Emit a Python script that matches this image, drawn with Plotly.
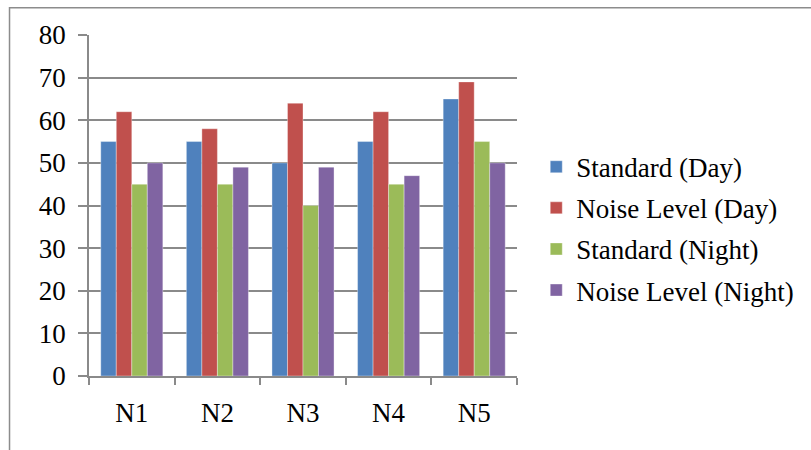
import plotly.graph_objects as go

sites = ["N1", "N2", "N3", "N4", "N5"]
standard_day = [55, 55, 50, 55, 65]
noise_day = [62, 58, 64, 62, 69]
standard_night = [45, 45, 40, 45, 55]
noise_night = [50, 49, 49, 47, 50]

series = [
    ("Standard (Day)", standard_day, "#4F81BD"),
    ("Noise Level (Day)", noise_day, "#C0504D"),
    ("Standard (Night)", standard_night, "#9BBB59"),
    ("Noise Level (Night)", noise_night, "#8064A2"),
]

font_family = "Liberation Serif, Times New Roman, serif"
grid_color = "#8a8a8a"

fig = go.Figure()
for i, (name, vals, color) in enumerate(series):
    fig.add_trace(go.Bar(
        x=sites, y=vals, name=name, legendgroup=f"g{i}",
        marker=dict(color=color, line=dict(color="rgba(255,255,255,0.35)", width=1)),
    ))

fig.update_layout(
    width=811, height=450,
    margin=dict(l=89, r=294, t=35, b=74, autoexpand=False),
    paper_bgcolor="white", plot_bgcolor="white",
    barmode="group", bargap=0.275, bargroupgap=0,
    font=dict(family=font_family, size=27, color="black"),
    showlegend=True,
    legend=dict(
        x=1.045, y=0.432, xanchor="left", yanchor="middle",
        traceorder="grouped", tracegroupgap=3,
        font=dict(family=font_family, size=27, color="black"),
        itemwidth=30,
    ),
    xaxis=dict(
        showline=True, linecolor=grid_color, linewidth=1.5,
        ticks="outside", tickson="boundaries", ticklen=7, tickcolor=grid_color,
        tickwidth=1.5, showgrid=False, ticklabelstandoff=12,
        tickfont=dict(family=font_family, size=27),
    ),
    yaxis=dict(
        range=[0, 80], dtick=10, showline=True, linecolor=grid_color, linewidth=1.5,
        ticks="outside", ticklen=9, tickcolor=grid_color, tickwidth=1.5,
        showgrid=True, gridcolor=grid_color, gridwidth=1.5, zeroline=False,
        ticklabelstandoff=7,
        tickfont=dict(family=font_family, size=27),
    ),
    shapes=[dict(
        type="rect", xref="paper", yref="paper",
        x0=-0.1857, x1=1.9, y0=1.0797, y1=-0.5,
        line=dict(color="#8c8c8c", width=1.5), layer="below",
    )],
)

fig.write_html("out.html")
